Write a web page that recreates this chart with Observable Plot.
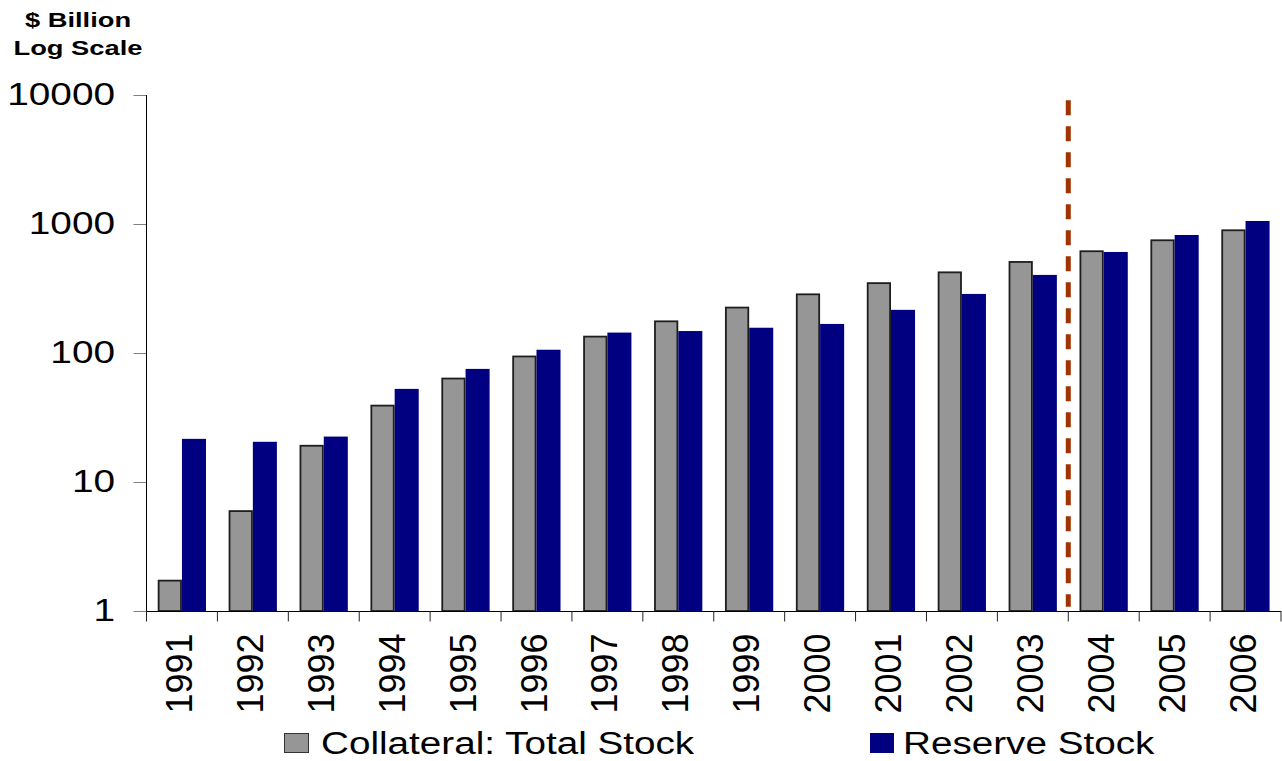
<!DOCTYPE html>
<html><head><meta charset="utf-8">
<script src="https://cdn.jsdelivr.net/npm/d3@7"></script>
<script src="https://cdn.jsdelivr.net/npm/@observablehq/plot@0.6"></script>
<style>
body{margin:0;background:#fff;font-family:"Liberation Sans",Arial,sans-serif;}
#wrap{position:relative;width:1282px;height:761px;overflow:hidden;background:#fff}
#title{position:absolute;left:0;top:0;width:156px;height:60px;padding-top:6px;box-sizing:border-box}
#title div{font-weight:bold;font-size:21px;line-height:28px;text-align:center;transform:scaleX(1.3);transform-origin:center;white-space:nowrap}
#chart{position:absolute;left:0;top:60px}
#legend{position:absolute;left:0;top:715px;width:1282px;height:46px}
.sw{position:absolute;top:18px;height:20px;box-sizing:border-box}
.lt{position:absolute;top:13px;font-size:31px;line-height:31px;white-space:nowrap;transform:scaleX(1.247);transform-origin:left;color:#000}
</style></head><body>
<div id="wrap">
  <div id="title"><div>$ Billion</div><div>Log Scale</div></div>
  <div id="chart"></div>
  <div id="legend"></div>
</div>
<script>
// ---- data ----
const years = ["1991","1992","1993","1994","1995","1996","1997","1998","1999","2000","2001","2002","2003","2004","2005","2006"];
const collateral = [1.72, 5.95, 19.1, 39.1, 63.4, 94, 134, 176, 225, 285, 348, 422, 508, 615, 748, 894];
const reserve = [21.6, 20.5, 22.5, 52.7, 75.3, 106, 144, 148, 157, 168, 216, 287, 403, 607, 822, 1055];
const seriesNames = ["Collateral: Total Stock", "Reserve Stock"];
const seriesColors = ["#969696", "#000080"];
const yTicks = [1, 10, 100, 1000, 10000];
const dividerYear = "2004";
const dividerRange = [1.08, 9100];

// ---- layout ----
const W = 1282, H = 655, mL = 146.5, mR = 1, mT = 35, mB = 104;
const bw = (W - mL - mR) / years.length;
const rows = years.map((year, i) => ({year, collateral: collateral[i], reserve: reserve[i]}));

const decor = (index, scales, values, dims) => {
  const g = d3.create("svg:g");
  const x = scales.x, y = scales.y;
  const step = x(years[1]) - x(years[0]);
  const edges = years.map(d => x(d)).concat([x(years[years.length - 1]) + step]);
  const y0 = y(yTicks[0]);
  g.selectAll("line.edge").data(edges).join("line")
    .attr("x1", d => d).attr("x2", d => d)
    .attr("y1", y0).attr("y2", y0 + 10.5)
    .attr("stroke", "#222").attr("stroke-width", 1);
  g.append("line")
    .attr("x1", dims.marginLeft).attr("x2", dims.marginLeft)
    .attr("y1", y(yTicks[yTicks.length - 1])).attr("y2", y0)
    .attr("stroke", "#000").attr("stroke-width", 1);
  const xd = x(dividerYear);
  g.append("line")
    .attr("x1", xd).attr("x2", xd)
    .attr("y1", y(dividerRange[1])).attr("y2", y(dividerRange[0]))
    .attr("stroke", "#A03400").attr("stroke-width", 5)
    .attr("stroke-dasharray", "15 11");
  return g.node();
};

const chart = Plot.plot({
  width: W, height: H,
  marginLeft: mL, marginRight: mR, marginTop: mT, marginBottom: mB,
  style: {fontFamily: '"Liberation Sans", Arial, sans-serif', background: "#fff", overflow: "visible", color: "#000"},
  x: {type: "band", domain: years, padding: 0, round: false},
  y: {type: "log", domain: [yTicks[0], yTicks[yTicks.length - 1]]},
  marks: [
    Plot.barY(rows, {x: "year", y1: yTicks[0], y2: "collateral", fill: seriesColors[0], stroke: "#1e1e1e", strokeWidth: 1.8,
      insetLeft: bw * 0.171, insetRight: bw * 0.513}),
    Plot.barY(rows, {x: "year", y1: yTicks[0], y2: "reserve", fill: seriesColors[1],
      insetLeft: bw * 0.5, insetRight: bw * 0.161}),
    Plot.ruleY([yTicks[0]], {stroke: "#000", strokeWidth: 1}),
    Plot.axisY({ticks: yTicks, tickFormat: d => String(d), tickSize: 13, tickPadding: 19, fontSize: 31,
      stroke: "#808080", fill: "#000", label: null}),
    Plot.axisX({tickSize: 0, tickPadding: 22, tickRotate: -90, fontSize: 36, fill: "#000", label: null, dx: -2}),
    decor
  ]
});
document.getElementById("chart").appendChild(chart);

// horizontal stretch of y tick labels, as in the original
chart.querySelectorAll('g[aria-label="y-axis tick label"] text').forEach(t => {
  const tr = t.getAttribute("transform") || "";
  t.setAttribute("transform", tr + " scale(1.25,1)");
});

// ---- legend ----
const legend = document.getElementById("legend");
const swLeft = [284, 870], txtLeft = [320.5, 903];
seriesNames.forEach((name, i) => {
  const sw = document.createElement("div");
  sw.className = "sw";
  sw.style.left = swLeft[i] + "px";
  sw.style.width = (i === 0 ? 25 : 24) + "px";
  sw.style.background = seriesColors[i];
  if (i === 0) sw.style.border = "1px solid #333";
  legend.appendChild(sw);
  const tx = document.createElement("span");
  tx.className = "lt";
  tx.style.left = txtLeft[i] + "px";
  tx.textContent = name;
  legend.appendChild(tx);
});
</script>
</body></html>
